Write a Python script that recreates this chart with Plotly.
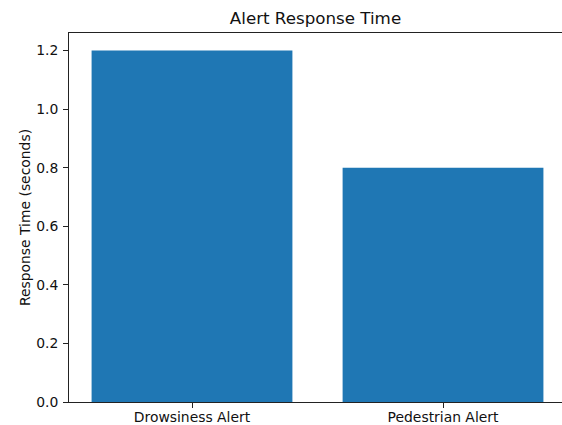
import plotly.graph_objects as go

categories = ["Drowsiness Alert", "Pedestrian Alert"]
response_times = [1.2, 0.8]

fig = go.Figure()
fig.add_trace(go.Bar(
    x=categories,
    y=response_times,
    width=0.8,
    marker=dict(color="#1f77b4", line=dict(width=0)),
))

font = "DejaVu Sans, sans-serif"
txt = "#111"
fig.update_layout(
    width=562, height=425,
    autosize=False,
    margin=dict(l=69, r=0, t=33, b=23, autoexpand=False),
    paper_bgcolor="white", plot_bgcolor="white",
    showlegend=False,
    font=dict(family=font, size=14, color=txt),
    title=dict(text="Alert Response Time", x=0.5, xref="paper", xanchor="center",
               y=1 - 18 / 425, yref="container", yanchor="middle",
               font=dict(family=font, size=16.7, color=txt)),
    xaxis=dict(
        type="category", range=[-0.49, 1.474],
        showline=True, linecolor="#222", linewidth=1, mirror=True,
        ticks="outside", ticklen=5, tickcolor="#222",
        ticklabelstandoff=-3,
        showgrid=False, zeroline=False, automargin=False,
        tickfont=dict(family=font, size=13.9, color=txt),
    ),
    yaxis=dict(
        range=[0, 1.26], dtick=0.2, tick0=0, tickformat=".1f",
        showline=True, linecolor="#222", linewidth=1,
        ticks="outside", ticklen=5, tickcolor="#222",
        ticklabelstandoff=2,
        showgrid=False, zeroline=False, automargin=False,
        tickfont=dict(family=font, size=13.9, color=txt),
        title=dict(text="Response Time (seconds)", standoff=2,
                   font=dict(family=font, size=13.9, color=txt)),
    ),
    bargap=0.2,
)

fig.write_html(
    "out.html",
    config={"displayModeBar": False},
    post_script="document.body.style.margin='0';document.body.style.overflow='hidden';",
)
